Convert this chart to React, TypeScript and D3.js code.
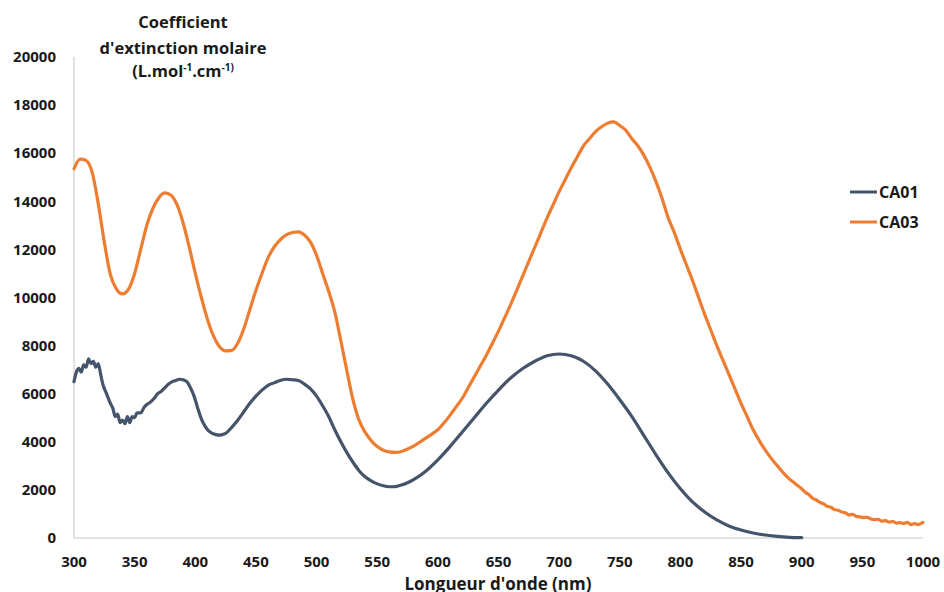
import React from "react";
import * as d3 from "d3";

// ---- Data ----
const xTicks = [300, 350, 400, 450, 500, 550, 600, 650, 700, 750, 800, 850, 900, 950, 1000];
const yTicks = [0, 2000, 4000, 6000, 8000, 10000, 12000, 14000, 16000, 18000, 20000];

const ca01Wavelengths = [
  300, 302, 304, 306, 308, 310, 312, 314, 316, 318, 320, 322, 324, 326, 328, 330, 332, 334, 336, 338,
  340, 342, 344, 346, 348, 350, 352, 355, 358, 360, 363, 366, 369, 372, 375, 378, 381, 384, 387, 390,
  393, 396, 399, 402, 405, 408, 411, 414, 417, 420, 425, 430, 435, 440, 445, 450, 455, 460, 465, 470,
  475, 480, 485, 490, 495, 500, 505, 510, 515, 520, 525, 530, 535, 540, 545, 550, 555, 560, 565, 570,
  575, 580, 590, 600, 610, 620, 630, 640, 650, 660, 670, 680, 690, 700, 710, 720, 730, 740, 750, 760,
  770, 780, 790, 800, 810, 820, 830, 840, 850, 860, 870, 880, 890, 900,
];
const ca01Values = [
  6500, 6900, 7050, 6900, 7200, 7100, 7450, 7250, 7350, 7100, 7250, 6800, 6350, 6100, 5850, 5600, 5400, 5050, 5150, 4800,
  4900, 4750, 5050, 4800, 5050, 5000, 5200, 5200, 5450, 5550, 5650, 5800, 6000, 6100, 6250, 6400, 6500, 6550, 6600, 6580,
  6500, 6250, 5900, 5400, 4950, 4650, 4450, 4350, 4300, 4280, 4350, 4600, 4900, 5250, 5600, 5900, 6150, 6350, 6450, 6550,
  6600, 6580, 6550, 6400, 6200, 5900, 5500, 5050, 4500, 4000, 3550, 3150, 2800, 2550, 2380, 2250, 2170, 2130, 2140, 2200,
  2300, 2430, 2780, 3250, 3800, 4400, 5000, 5600, 6150, 6650, 7050, 7350, 7580, 7650, 7580, 7350, 6950, 6400, 5750, 5050,
  4250, 3450, 2700, 2050, 1500, 1080, 750, 500, 330, 210, 125, 65, 30, 15,
];

const ca03Wavelengths = [
  300, 305, 310, 315, 320, 325, 330, 335, 340, 345, 350, 355, 360, 365, 370, 375, 380, 385, 390, 395,
  400, 405, 410, 415, 420, 425, 430, 435, 440, 445, 450, 455, 460, 465, 470, 475, 480, 485, 490, 495,
  500, 505, 510, 515, 520, 525, 530, 535, 540, 545, 550, 555, 560, 565, 570, 575, 580, 585, 590, 595,
  600, 605, 610, 615, 620, 625, 630, 635, 640, 645, 650, 655, 660, 665, 670, 675, 680, 685, 690, 695,
  700, 705, 710, 715, 720, 725, 730, 735, 740, 745, 750, 755, 760, 765, 770, 775, 780, 785, 790, 795,
  800, 805, 810, 815, 820, 825, 830, 835, 840, 845, 850, 855, 860, 865, 870, 875, 880, 885, 890, 895,
  900, 903, 906, 909, 912, 915, 918, 921, 924, 927, 930, 933, 936, 939, 942, 945, 948, 951, 954, 957,
  960, 963, 966, 969, 972, 975, 978, 981, 984, 987, 990, 993, 996, 1000,
];
const ca03Values = [
  15350, 15750, 15700, 15200, 13900, 12300, 10950, 10350, 10150, 10350, 11000, 12000, 13000, 13700, 14150, 14350, 14250, 13850, 13100, 12100,
  11000, 10000, 9100, 8400, 7950, 7780, 7800, 8100, 8700, 9500, 10300, 11000, 11650, 12100, 12400, 12600, 12700, 12730, 12600, 12300,
  11750, 11000, 10250, 9400, 8200, 6950, 5750, 4900, 4400, 4050, 3800, 3650, 3580, 3560, 3600, 3700, 3820, 3980, 4150, 4320,
  4500, 4780, 5100, 5450, 5800, 6250, 6700, 7150, 7600, 8100, 8600, 9150, 9700, 10300, 10900, 11500, 12100, 12700, 13300, 13850,
  14400, 14900, 15400, 15850, 16300, 16600, 16900, 17100, 17250, 17300, 17150, 16950, 16600, 16300, 15900, 15400, 14800, 14100, 13300, 12700,
  12000, 11350, 10700, 10000, 9300, 8650, 8000, 7400, 6800, 6200, 5600, 5050, 4500, 4050, 3650, 3300, 3000, 2700, 2450, 2250,
  2050, 1900, 1800, 1650, 1580, 1480, 1420, 1320, 1280, 1180, 1150, 1080, 1050, 960, 980, 900, 880, 850, 860, 790,
  760, 780, 700, 720, 660, 690, 620, 640, 600, 650, 560, 600, 560, 650,
];

const seriesNames = ["CA01", "CA03"];
const seriesColors = ["#44546A", "#ED7D31"];

const FONT = "'Open Sans', 'Liberation Sans', sans-serif";

export default function App() {
  const W = 944;
  const H = 592;
  const x = d3.scaleLinear().domain([300, 1000]).range([74, 923]);
  const y = d3.scaleLinear().domain([0, 20000]).range([538, 57]);

  const line = d3
    .line<[number, number]>()
    .x((d) => x(d[0]))
    .y((d) => y(d[1]))
    .curve(d3.curveMonotoneX);

  const series = [
    ca01Wavelengths.map((w, i) => [w, ca01Values[i]] as [number, number]),
    ca03Wavelengths.map((w, i) => [w, ca03Values[i]] as [number, number]),
  ];

  return (
    <div style={{ position: "fixed", left: 0, top: 0, width: W, height: H, background: "#fff" }}>
      <svg width={W} height={H} style={{ display: "block" }} fontFamily={FONT}>
        <rect width={W} height={H} fill="#fff" />
        {/* axes */}
        <line x1={x(300)} x2={x(300)} y1={y(20000)} y2={y(0)} stroke="#d9d9d9" strokeWidth={1.5} />
        <line x1={x(300)} x2={x(1000)} y1={y(0)} y2={y(0)} stroke="#d9d9d9" strokeWidth={1.5} />

        {/* y tick labels */}
        {yTicks.map((t) => (
          <text key={t} x={56} y={y(t)} dy="0.35em" textAnchor="end" fontSize={15} fontWeight={700} fill="#1a1a1a">
            {t}
          </text>
        ))}
        {/* x tick labels */}
        {xTicks.map((t) => (
          <text key={t} x={x(t)} y={567} textAnchor="middle" fontSize={15} fontWeight={700} fill="#1a1a1a">
            {t}
          </text>
        ))}

        {/* series lines */}
        {series.map((s, i) => (
          <path
            key={seriesNames[i]}
            d={line(s) || ""}
            fill="none"
            stroke={seriesColors[i]}
            strokeWidth={3.2}
            strokeLinejoin="round"
            strokeLinecap="round"
          />
        ))}

        {/* y axis title */}
        <g fontSize={16.5} fontWeight={700} fill="#1a1a1a" textAnchor="middle">
          <text x={183} y={28}>Coefficient</text>
          <text x={183} y={54}>d'extinction molaire</text>
          <text x={183} y={77}>
            (L.mol
            <tspan fontSize={10} dy={-6}>-1</tspan>
            <tspan dy={6}>.cm</tspan>
            <tspan fontSize={10} dy={-6}>-1)</tspan>
          </text>
        </g>

        {/* x axis title (partly cut by the bottom edge, as in the reference) */}
        <text x={498} y={590} textAnchor="middle" fontSize={17} fontWeight={700} fill="#1a1a1a">
          Longueur d'onde (nm)
        </text>

        {/* legend */}
        {seriesNames.map((n, i) => (
          <g key={n}>
            <line x1={850} x2={877} y1={192 + i * 30} y2={192 + i * 30} stroke={seriesColors[i]} strokeWidth={3} />
            <text x={879} y={192 + i * 30} dy="0.35em" fontSize={16} fontWeight={700} fill="#1a1a1a">
              {n}
            </text>
          </g>
        ))}
      </svg>
    </div>
  );
}
